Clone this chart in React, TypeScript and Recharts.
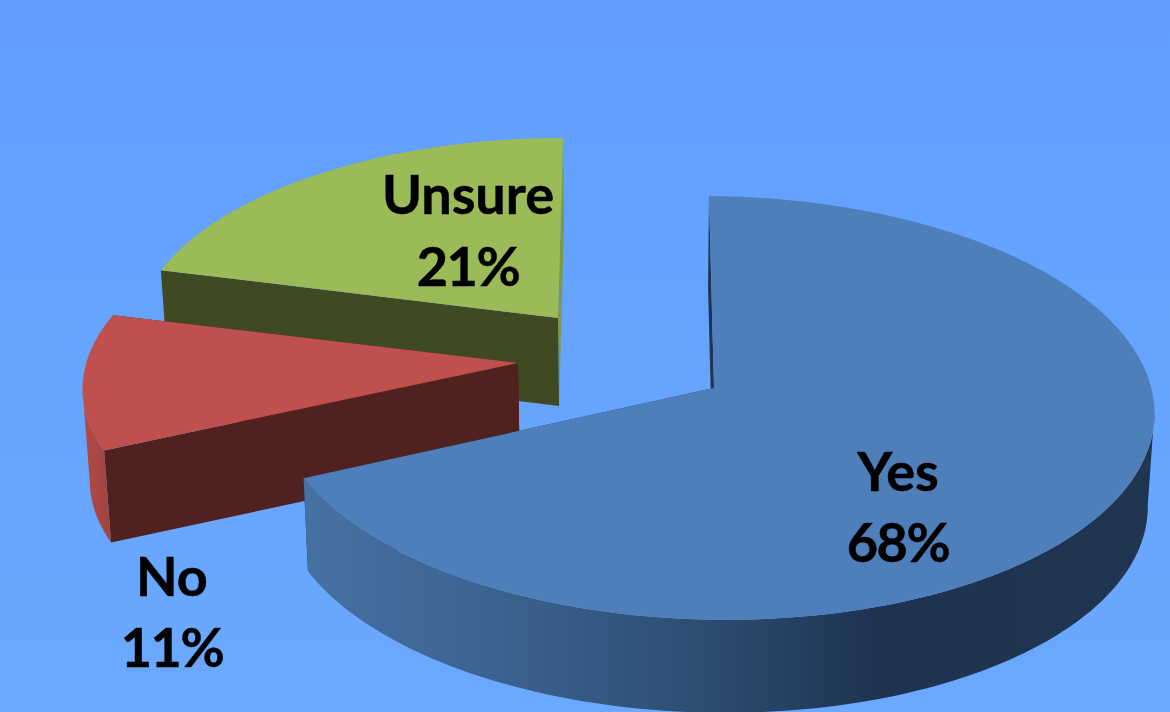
import React from "react";
import { PieChart, Pie } from "recharts";

// Data (painted back to front, running counter-clockwise from the top)
const categories = ["Unsure", "No", "Yes"];
const percents = [21, 11, 68];

const data = categories.map((name, i) => ({ name, value: percents[i] }));

// Layout of each exploded slice: homography of the unit disc onto the page
const KEEL = 0.094;
const SHRINK = 0.987;
const VANISH_X = 640;
const geometry: Record<string, any> = {
  Unsure: { x: 558, y: 318, a: 421, r: 197, lean: 5.5, tilt: 0, depth: 88 },
  No: { x: 518, y: 363, a: 431.8, r: 197, lean: 15.6, tilt: 0, depth: 92 },
  Yes: { x: 714, y: 388, a: 438, r: 210, lean: -5.5, tilt: -3, depth: 93 },
};
const palette: Record<string, any> = {
  Unsure: { top: "#9BBB59", start: "#7E9A48", end: "#404A22", rim: "#7E9A48" },
  No: { top: "#C0504D", start: "#50211F", end: "#50211F", rim: "url(#rimNo)" },
  Yes: { top: "#4F7FBA", start: "#1F3551", end: "#1F3551", rim: "url(#rimYes)" },
};
const labelSpots: Record<string, any> = {
  Unsure: { x: 468, y1: 214, y2: 286 },
  No: { x: 172, y1: 596, y2: 667 },
  Yes: { x: 898, y1: 491, y2: 562 },
};

const project = (g: any, deg: number) => {
  const t = (deg * Math.PI) / 180;
  const u = Math.cos(t);
  const v = Math.sin(t);
  const d = 1 + KEEL * v;
  return [g.x + (g.a * u + g.lean * v) / d, g.y - (g.r * v + g.tilt * u) / d];
};
const toPath = (pts: number[][]) =>
  "M" + pts.map((p) => `${p[0].toFixed(2)},${p[1].toFixed(2)}`).join("L") + "Z";

const Slice3D = (props: any) => {
  const name = props.name ?? props.payload?.name;
  const g = geometry[name];
  const c = palette[name];
  const drop = (p: number[]) => [VANISH_X + (p[0] - VANISH_X) * SHRINK, p[1] + g.depth];
  const a0 = Math.min(props.startAngle, props.endAngle);
  const a1 = Math.max(props.startAngle, props.endAngle);
  const n = Math.max(8, Math.ceil((a1 - a0) / 1.5));
  const rim: number[][] = [];
  for (let i = 0; i <= n; i++) rim.push(project(g, a0 + ((a1 - a0) * i) / n));
  const apex = [g.x, g.y];
  const apexLow = drop(apex);
  const first = rim[0];
  const last = rim[rim.length - 1];

  // outer wall: only the run of the rim that faces the viewer
  const front: number[][] = [];
  for (let i = 0; i < rim.length - 1; i++) {
    if (rim[i + 1][0] > rim[i][0] && rim[i][1] > g.y - 40) {
      if (!front.length) front.push(rim[i]);
      front.push(rim[i + 1]);
    } else if (front.length) break;
  }
  const band = front.length ? [...front, ...front.map(drop).reverse()] : null;

  return (
    <g>
      <path d={toPath([apex, first, drop(first), apexLow])} fill={c.start} />
      <path d={toPath([apex, last, drop(last), apexLow])} fill={c.end} />
      {band && <path d={toPath(band)} fill={c.rim} />}
      <path d={toPath([apex, ...rim])} fill={c.top} />
    </g>
  );
};

const SliceLabel = (props: any) => {
  const spot = labelSpots[props.name];
  const style = {
    fontFamily: "Lato, Carlito, sans-serif",
    fontWeight: 700,
    fontSize: 54,
  };
  return (
    <g>
      <text x={spot.x} y={spot.y1} textAnchor="middle" fill="#000" stroke="#000" strokeWidth={0.5} style={style}>
        {props.name}
      </text>
      <text x={spot.x} y={spot.y2} textAnchor="middle" fill="#000" stroke="#000" strokeWidth={0.5} letterSpacing={-1.5} style={style}>
        {`${props.value}%`}
      </text>
    </g>
  );
};

export default function App() {
  return (
    <div
      style={{
        position: "absolute",
        left: 0,
        top: 0,
        width: 1170,
        height: 712,
        overflow: "hidden",
        background: "linear-gradient(180deg, #609FFF 0%, #6BA9FF 100%)",
      }}
    >
      <PieChart width={1170} height={712} margin={{ top: 0, right: 0, bottom: 0, left: 0 }}>
        <defs>
          <linearGradient id="rimYes" gradientUnits="userSpaceOnUse" x1="305" y1="0" x2="1150" y2="0">
            <stop offset="0" stopColor="#4672A3" />
            <stop offset="0.2" stopColor="#3D6492" />
            <stop offset="0.45" stopColor="#2E4F75" />
            <stop offset="0.68" stopColor="#1E3350" />
            <stop offset="1" stopColor="#1F3550" />
          </linearGradient>
          <linearGradient id="rimNo" gradientUnits="userSpaceOnUse" x1="85" y1="0" x2="110" y2="0">
            <stop offset="0" stopColor="#B04B47" />
            <stop offset="1" stopColor="#A04440" />
          </linearGradient>
        </defs>
        <Pie
          data={data}
          dataKey="value"
          nameKey="name"
          cx={600}
          cy={380}
          outerRadius={300}
          startAngle={90}
          endAngle={450}
          stroke="none"
          isAnimationActive={false}
          labelLine={false}
          label={SliceLabel}
          shape={Slice3D}
          inactiveShape={Slice3D}
          activeShape={Slice3D}
          rootTabIndex={-1}
        />
      </PieChart>
    </div>
  );
}
